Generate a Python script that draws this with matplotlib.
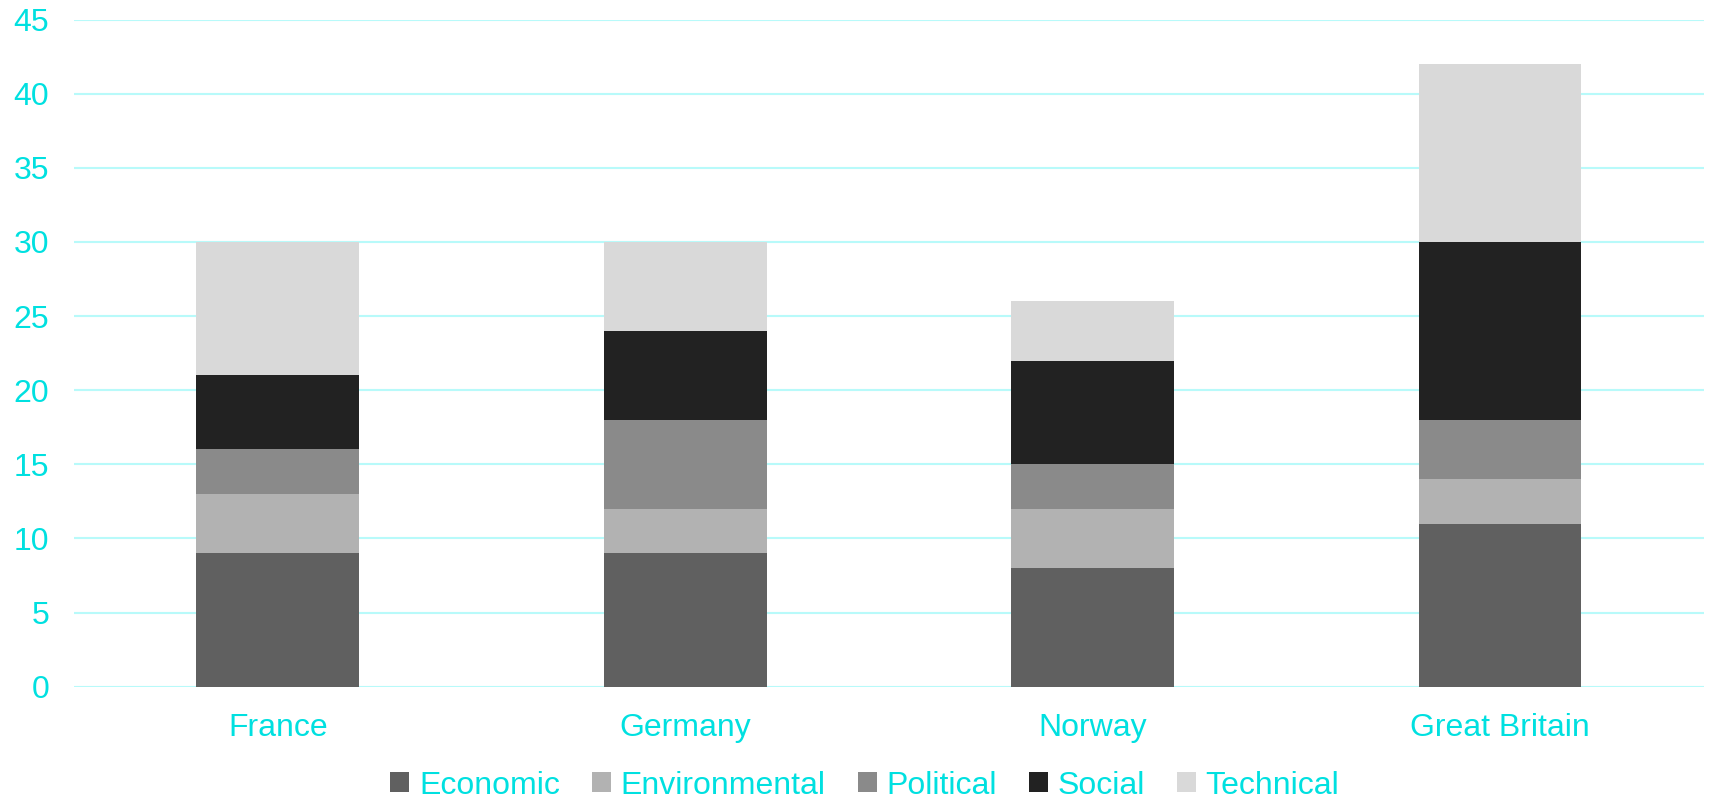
import matplotlib
matplotlib.use("Agg")
import matplotlib.pyplot as plt
import numpy as np

plt.rcParams['font.family'] = ['Liberation Sans', 'DejaVu Sans']

# data
countries = ['France', 'Germany', 'Norway', 'Great Britain']
economic = [9, 9, 8, 11]
environmental = [4, 3, 4, 3]
political = [3, 6, 3, 4]
social = [5, 6, 7, 12]
technical = [9, 6, 4, 12]

series = [('Economic', economic, '#606060'),
          ('Environmental', environmental, '#b2b2b2'),
          ('Political', political, '#8a8a8a'),
          ('Social', social, '#222222'),
          ('Technical', technical, '#d9d9d9')]

txt = '#00e0e0'
grid = '#b8fafa'

fig = plt.figure(figsize=(17.09, 8), dpi=100)
ax = fig.add_axes([0.0434, 0.1416, 0.9535, 0.834])

x = np.arange(len(countries))
bottom = np.zeros(len(countries))
for name, vals, col in series:
    ax.bar(x, vals, width=0.4, bottom=bottom, color=col, label=name, zorder=3)
    bottom += np.array(vals)

ax.set_xlim(-0.5, len(countries) - 0.5)
ax.set_ylim(0, 45)
ax.set_yticks(np.arange(0, 46, 5))
ax.set_xticks(x)
ax.set_xticklabels(countries)
ax.grid(axis='y', color=grid, linewidth=1.5, zorder=0)
for s in ax.spines.values():
    s.set_visible(False)
ax.tick_params(axis='both', length=0, labelsize=23, labelcolor=txt)
ax.tick_params(axis='y', pad=18)
ax.tick_params(axis='x', pad=19)

fig.legend(loc='center', bbox_to_anchor=(0.506, 0.018), ncol=5, frameon=False,
           fontsize=23, labelcolor=txt, handlelength=0.6, handleheight=0.6,
           handletextpad=0.3, columnspacing=1.0)

fig.savefig('out.png', dpi=100)
